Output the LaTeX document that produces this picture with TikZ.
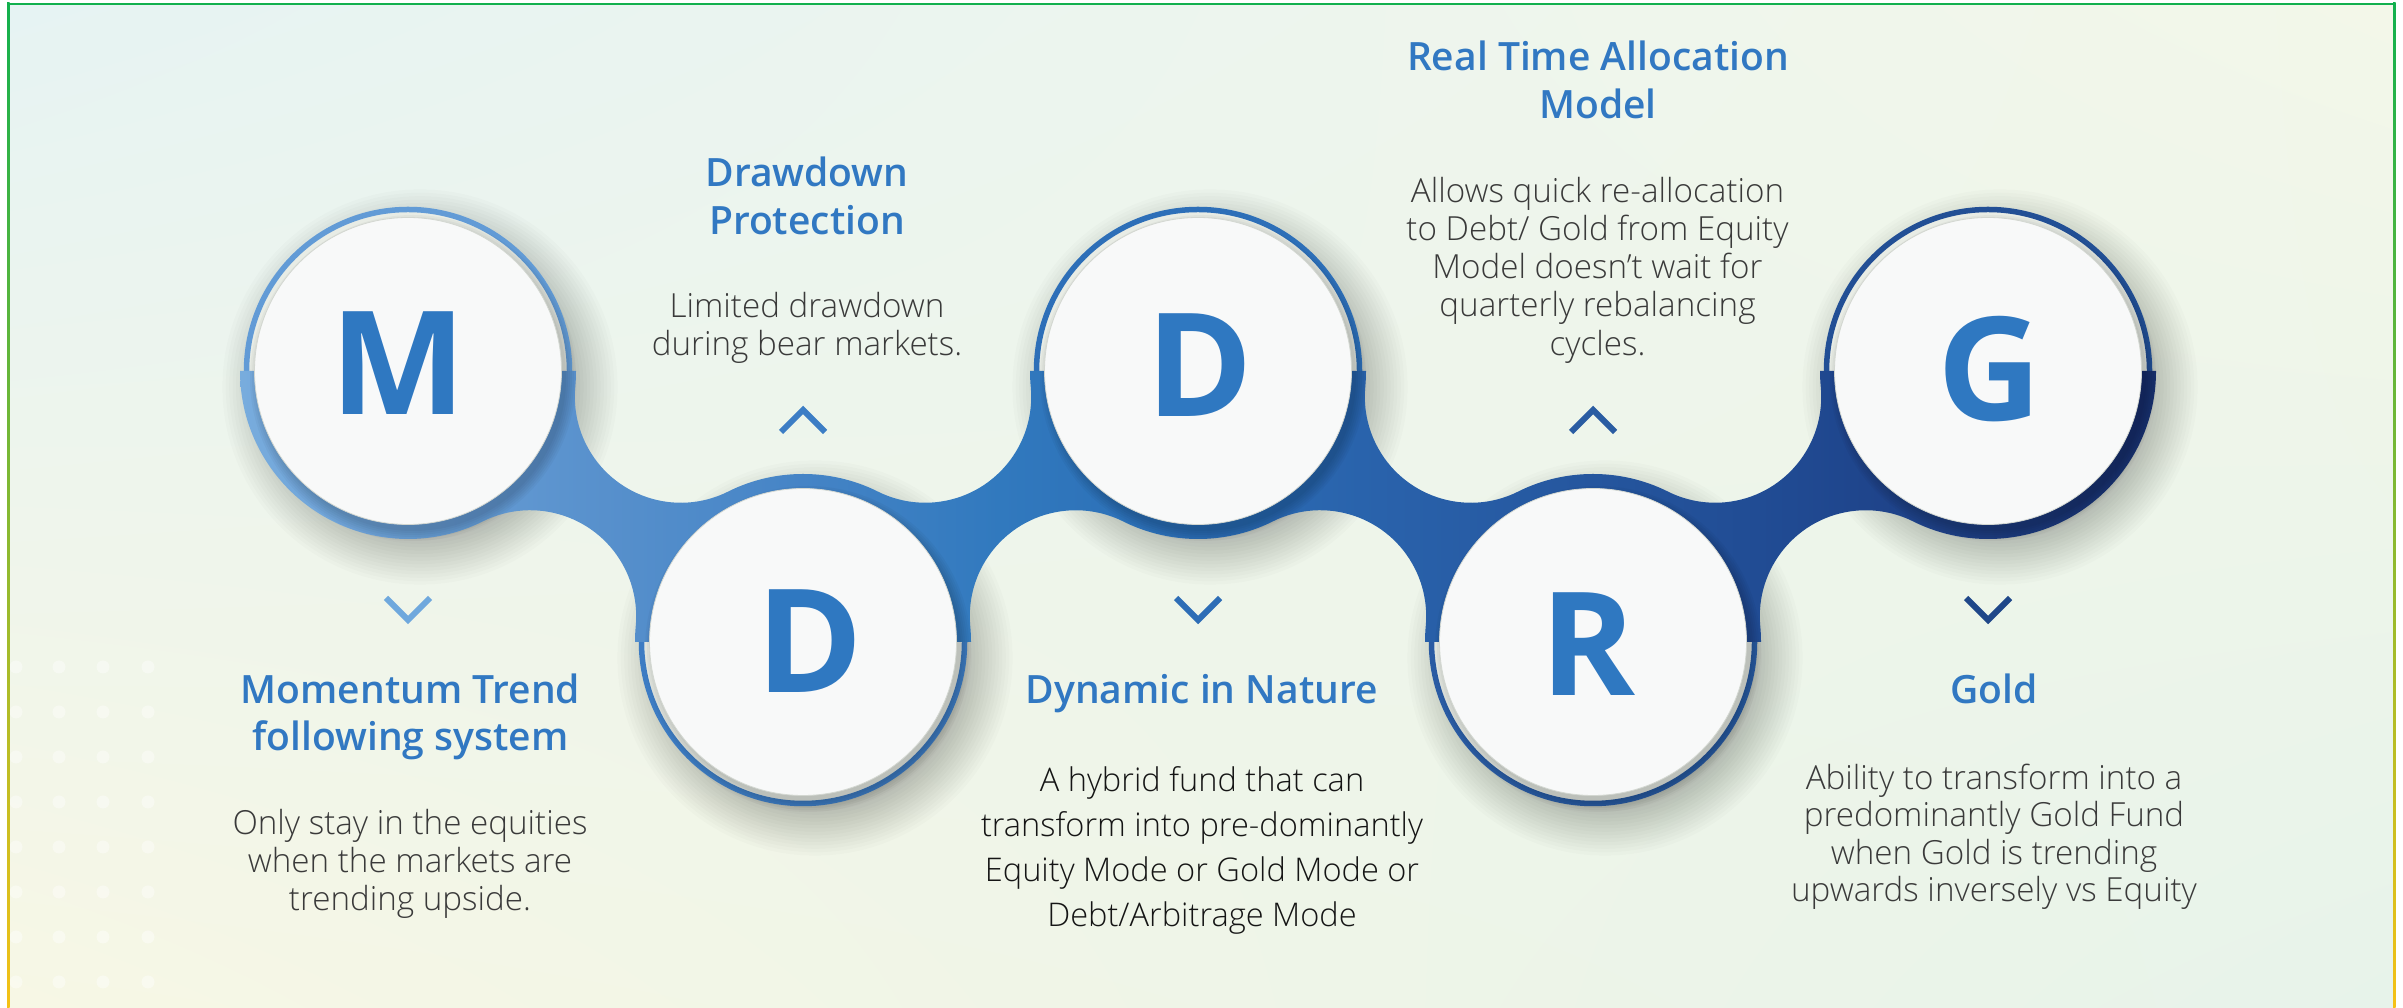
\documentclass[tikz,border=0pt]{standalone}
\usepackage{fontspec}
\setmainfont{Open Sans}
\newfontfamily\lightfont{Open Sans Light}
\newfontfamily\semifont{Open Sans Semibold}
\usetikzlibrary{shadings}
\definecolor{bgTL}{HTML}{E6F3F3}
\definecolor{bgTR}{HTML}{F3F7E9}
\definecolor{bgBL}{HTML}{F7F7E5}
\definecolor{bgBR}{HTML}{E7F3EA}
\definecolor{r0}{HTML}{78ACDD}
\definecolor{r1}{HTML}{6A9FD6}
\definecolor{r2}{HTML}{5790CC}
\definecolor{r3}{HTML}{4584C6}
\definecolor{r4}{HTML}{3179BE}
\definecolor{r5}{HTML}{2B6DB5}
\definecolor{r6}{HTML}{2961AA}
\definecolor{r7}{HTML}{25569E}
\definecolor{r8}{HTML}{204A92}
\definecolor{r9}{HTML}{1D3D82}
\definecolor{r10}{HTML}{172F6C}
\definecolor{ringM}{HTML}{629BD6}
\definecolor{ringDa}{HTML}{3D7CC3}
\definecolor{ringDb}{HTML}{2D6FB8}
\definecolor{ringR}{HTML}{2A5BA3}
\definecolor{ringG}{HTML}{224F95}
\definecolor{chM}{HTML}{6FA8DD}
\definecolor{chDa}{HTML}{3C7DC5}
\definecolor{chDb}{HTML}{2D6DB6}
\definecolor{chR}{HTML}{2A5CA2}
\definecolor{chG}{HTML}{1F4789}
\definecolor{headblue}{HTML}{3178C2}
\definecolor{letterblue}{HTML}{2F78C1}
\definecolor{bodygrey}{HTML}{3A3A3A}
\definecolor{bodydark}{HTML}{151515}
\definecolor{frameG}{HTML}{12B04E}
\definecolor{frameT}{HTML}{1E8F96}
\definecolor{frameY}{HTML}{F5C116}
\definecolor{pale}{HTML}{E8ECE5}
\definecolor{whitec}{HTML}{F8F9F9}
\definecolor{rimgrey}{HTML}{D3D7D1}
\pgfdeclarehorizontalshading{ribbonsh}{100bp}{color(0bp)=(r0); color(25bp)=(r0); color(29.38bp)=(r1); color(34.53bp)=(r2); color(39.69bp)=(r3); color(44.83bp)=(r4); color(50bp)=(r5); color(55.14bp)=(r6); color(60.31bp)=(r7); color(65.45bp)=(r8); color(70.6bp)=(r9); color(75bp)=(r10); color(100bp)=(r10)}
\begin{document}
\begin{tikzpicture}[x=1pt,y=1pt,
  head/.style={font=\semifont\fontsize{39}{45}\selectfont, text=headblue, anchor=base, inner sep=0pt},
  body/.style={font=\lightfont\fontsize{33.2}{38}\selectfont, text=bodygrey, anchor=base, inner sep=0pt},
  bodyd/.style={font=\lightfont\fontsize{32.6}{45}\selectfont, text=bodydark, anchor=base, inner sep=0pt},
  letter/.style={font=\fontsize{144}{150}\selectfont\bfseries, text=letterblue, anchor=base, inner sep=0pt},
  disc/.style={circle, minimum size=307pt, inner sep=0pt, fill=whitec, draw=rimgrey, line width=0.8pt},
  chev/.style={line width=6pt, line join=miter, line cap=butt}]
\useasboundingbox (0,0) rectangle (2403,1008);
% background
\fill[white] (0,0) rectangle (2403,1008);
\shade[upper left=bgTL, upper right=bgTR, lower left=bgBL, lower right=bgBR] (9,0) rectangle (2394,1004);
% dots
\foreach \dx in {16,59,103,148}{\foreach \dy in {667,712,757,802,847,892,937,982}{\fill[white,opacity=0.4] (\dx,1008-\dy) circle (6.5);}}
% frame
\shade[top color=frameG, middle color=frameT, bottom color=frameY] (7,0) rectangle (9.5,1005);
\shade[top color=frameG, middle color=frameT, bottom color=frameY] (2393,0) rectangle (2395.5,1005);
\fill[frameG] (7,1002.5) rectangle (2395.5,1005);
% shadows
\foreach \cx/\cy in {408/637,803/366,1198/637,1593/366,1988/637}{
  \foreach \k in {0,...,14}{\fill[black,opacity=0.015] (\cx+12,\cy-16) circle ({150+3.4*\k});}
}
% pale discs and thin rings
\foreach \cx/\cy/\col/\sa in {408/637/ringM/0,803/366/ringDa/180,1198/637/ringDb/0,1593/366/ringR/180,1988/637/ringG/0}{
  \fill[pale] (\cx,\cy) circle (161);
  \draw[\col, line width=5.5pt] (\cx,\cy) ++(\sa:161.5) arc[start angle=\sa, end angle=\sa+180, radius=161.5];
}
% ribbon
\shade[shading=ribbonsh]
  (240,637) arc[start angle=180,end angle=360,radius=168] -- cycle
  (971,366) arc[start angle=0,end angle=180,radius=168] -- cycle
  (1030,637) arc[start angle=180,end angle=360,radius=168] -- cycle
  (1761,366) arc[start angle=0,end angle=180,radius=168] -- cycle
  (1820,637) arc[start angle=180,end angle=360,radius=168] -- cycle
  (408,637) -- (482.93,486.63) arc[start angle=116.48,end angle=-5.39,radius=106] -- (803,366) -- (728.07,516.37) arc[start angle=296.48,end angle=174.61,radius=106] -- cycle
  (970.26,381.79) arc[start angle=-174.61,end angle=-296.48,radius=106] -- (1198,637) -- (1030.74,621.21) arc[start angle=5.39,end angle=-116.48,radius=106] -- (803,366) -- cycle
  (1198,637) -- (1272.93,486.63) arc[start angle=116.48,end angle=-5.39,radius=106] -- (1593,366) -- (1518.07,516.37) arc[start angle=296.48,end angle=174.61,radius=106] -- cycle
  (1760.26,381.79) arc[start angle=-174.61,end angle=-296.48,radius=106] -- (1988,637) -- (1820.74,621.21) arc[start angle=5.39,end angle=-116.48,radius=106] -- (1593,366) -- cycle;
% inner shadows
\foreach \cx/\cy in {408/637,803/366,1198/637,1593/366,1988/637}{
  \foreach \k in {0,...,5}{\fill[black,opacity=0.03] (\cx+5,\cy-7) circle ({153+2*\k});}
}
% white circles
\node[disc] (cM) at (408,637) {};
\node[disc] (cD1) at (803,366) {};
\node[disc] (cD2) at (1198,637) {};
\node[disc] (cR) at (1593,366) {};
\node[disc] (cG) at (1988,637) {};
% letters
\node[letter] (lM) at (398,593.7) {M};
\node[letter] (lD1) at (809.5,315.7) {D};
\node[letter] (lD2) at (1200,591.4) {D};
\node[letter] (lR) at (1588,312.8) {R};
\node[letter] (lG) at (1990,587) {G};
% chevrons
\draw[chev, chM] (386,410) -- (408,388) -- (430,410);
\draw[chev, chDb] (1176,410) -- (1198,388) -- (1220,410);
\draw[chev, chG] (1966,410) -- (1988,388) -- (2010,410);
\draw[chev, chDa] (781,576) -- (803,598) -- (825,576);
\draw[chev, chR] (1571,576) -- (1593,598) -- (1615,576);
% headings
\node[head] (tRT1) at (1598,937.3) {Real Time Allocation};
\node[head] (tRT2) at (1598,889.7) {Model};
\node[head] (tDP1) at (807,821.5) {Drawdown};
\node[head] (tDP2) at (807,773) {Protection};
\node[head] (tMT1) at (410.5,304.7) {Momentum Trend};
\node[head] (tMT2) at (410.5,257) {following system};
\node[head] (tDN) at (1201.6,304.7) {Dynamic in Nature};
\node[head] (tGo) at (1994,304) {Gold};
% body texts
\node[body] (a1) at (1597.5,805.3) {Allows quick re-allocation};
\node[body] (a2) at (1597.5,767.2) {to Debt/ Gold from Equity};
\node[body] (a3) at (1597.5,729.1) {Model doesn’t wait for};
\node[body] (a4) at (1597.5,691.0) {quarterly rebalancing};
\node[body] (a5) at (1597.5,652.9) {cycles.};
\node[body] (b1) at (807,690) {Limited drawdown};
\node[body] (b2) at (807,652) {during bear markets.};
\node[body] (c1) at (410,173) {Only stay in the equities};
\node[body] (c2) at (410,135) {when the markets are};
\node[body] (c3) at (410,97) {trending upside.};
\node[body] (g1) at (1994,218.7) {Ability to transform into a};
\node[body] (g2) at (1994,181.2) {predominantly Gold Fund};
\node[body] (g3) at (1994,143.7) {when Gold is trending};
\node[body] (g4) at (1994,106.2) {upwards inversely vs Equity};
\node[bodyd] (h1) at (1202,216.3) {A hybrid fund that can};
\node[bodyd] (h2) at (1202,171.3) {transform into pre-dominantly};
\node[bodyd] (h3) at (1202,126.3) {Equity Mode or Gold Mode or};
\node[bodyd] (h4) at (1202,81.3) {Debt/Arbitrage Mode};
\end{tikzpicture}
\end{document}
